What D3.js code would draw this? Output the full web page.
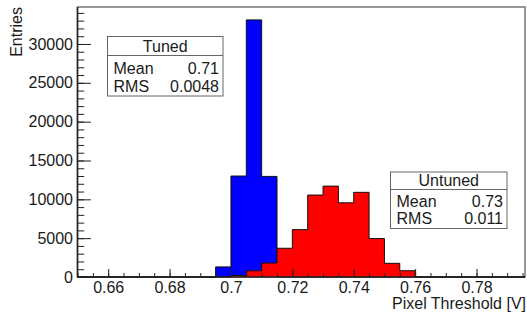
<!DOCTYPE html>
<html>
<head>
<meta charset="utf-8">
<script src="https://cdn.jsdelivr.net/npm/d3@7"></script>
<style>
  body { margin: 0; background: #fff; }
  text { font-family: "Liberation Sans", Arial, sans-serif; fill: #1a1a1a; }
</style>
</head>
<body>
<svg id="chart"></svg>
<script>
// bin lower edges, bin width 0.005 V
const binLows = [0.690, 0.695, 0.700, 0.705, 0.710, 0.715, 0.720, 0.725,
                 0.730, 0.735, 0.740, 0.745, 0.750, 0.755, 0.760, 0.765];
const tuned   = [0, 1300, 13000, 33100, 12950, 0, 0, 0, 0, 0, 0, 0, 0, 0, 0, 0];
const untuned = [0, 0, 200, 800, 1800, 3700, 6100, 10550,
                 11700, 9550, 10900, 4950, 1760, 810, 0, 0];
const binWidth = 0.005;

const xMajor = [0.66, 0.68, 0.70, 0.72, 0.74, 0.76, 0.78];
const xMinor = d3.range(0.65, 0.796, 0.005);
const yMajor = [0, 5000, 10000, 15000, 20000, 25000, 30000];
const yMinor = d3.range(0, 34001, 1000);

const tunedStats = [["Mean", "0.71"], ["RMS", "0.0048"]];
const untunedStats = [["Mean", "0.73"], ["RMS", "0.011"]];

const width = 527;
const height = 313;
const svg = d3.select("#chart").attr("width", width).attr("height", height);

const frame = { left: 77.5, right: 525, top: 7, bottom: 277 };

const x = d3.scaleLinear().domain([0.65, 0.7958]).range([frame.left, frame.right]);
const y = d3.scaleLinear().domain([0, 34760]).range([frame.bottom, frame.top]);

// step outline points for a histogram, zero outside the filled bins
function stepPoints(counts) {
  const pts = [[x.domain()[0], 0]];
  binLows.forEach((lo, i) => {
    pts.push([lo, pts[pts.length - 1][1]]);
    pts.push([lo, counts[i]]);
    pts.push([lo + binWidth, counts[i]]);
  });
  const last = binLows[binLows.length - 1] + binWidth;
  pts.push([last, 0]);
  pts.push([x.domain()[1], 0]);
  return pts;
}

const area = d3.area().x(d => x(d[0])).y0(y(0)).y1(d => y(d[1]));
const line = d3.line().x(d => x(d[0])).y(d => y(d[1]));

// frame
svg.append("rect")
  .attr("x", frame.left).attr("y", frame.top)
  .attr("width", frame.right - frame.left).attr("height", frame.bottom - frame.top)
  .attr("fill", "none").attr("stroke", "#777").attr("stroke-width", 1.5);

// blue first, red drawn on top
[[tuned, "#0000ff"], [untuned, "#ff0000"]].forEach(([counts, color]) => {
  const pts = stepPoints(counts);
  svg.append("path").datum(pts).attr("d", area).attr("fill", color);
  svg.append("path").datum(pts).attr("d", line)
    .attr("fill", "none").attr("stroke", "#111").attr("stroke-width", 1);
});

// x axis
const xAxisG = svg.append("g").attr("transform", `translate(0,${frame.bottom})`);
xAxisG.append("g")
  .call(d3.axisBottom(x).tickValues(xMinor).tickSize(-4).tickFormat(""))
  .call(g => g.select(".domain").remove());
xAxisG.append("g")
  .call(d3.axisBottom(x).tickValues(xMajor).tickSize(-8).tickPadding(5).tickFormat(d3.format("~g")))
  .call(g => g.select(".domain").remove())
  .call(g => g.selectAll("text").attr("font-size", 16).attr("fill", "#1a1a1a"));
xAxisG.selectAll("line").attr("stroke", "#222");

// y axis
const yAxisG = svg.append("g").attr("transform", `translate(${frame.left},0)`);
yAxisG.append("g")
  .call(d3.axisLeft(y).tickValues(yMinor).tickSize(-6.7).tickFormat(""))
  .call(g => g.select(".domain").remove());
yAxisG.append("g")
  .call(d3.axisLeft(y).tickValues(yMajor).tickSize(-13.4).tickPadding(4.5).tickFormat(d3.format("d")))
  .call(g => g.select(".domain").remove())
  .call(g => g.selectAll("text").attr("font-size", 16).attr("fill", "#1a1a1a"));
yAxisG.selectAll("line").attr("stroke", "#222");

// axis lines
svg.append("line").attr("x1", frame.left).attr("x2", frame.right)
  .attr("y1", frame.bottom).attr("y2", frame.bottom).attr("stroke", "#222").attr("stroke-width", 1.5);
svg.append("line").attr("x1", frame.left).attr("x2", frame.left)
  .attr("y1", frame.top).attr("y2", frame.bottom).attr("stroke", "#222").attr("stroke-width", 1.5);

// axis titles
svg.append("text").attr("x", 526).attr("y", 309)
  .attr("text-anchor", "end").attr("font-size", 16).text("Pixel Threshold [V]");
svg.append("text").attr("transform", "translate(22,7) rotate(-90)")
  .attr("text-anchor", "end").attr("font-size", 16).text("Entries");

// stat boxes
function statBox(title, rows, b) {
  const g = svg.append("g");
  g.append("rect").attr("x", b.x0).attr("y", b.y0)
    .attr("width", b.x1 - b.x0).attr("height", b.y1 - b.y0)
    .attr("fill", "#fff").attr("stroke", "#666").attr("stroke-width", 1);
  g.append("line").attr("x1", b.x0).attr("x2", b.x1)
    .attr("y1", b.div).attr("y2", b.div).attr("stroke", "#666");
  g.append("text").attr("x", (b.x0 + b.x1) / 2).attr("y", b.div - 3.5)
    .attr("text-anchor", "middle").attr("font-size", 16).text(title);
  const h = b.y1 - b.div;
  rows.forEach((r, i) => {
    const by = b.div + h * (0.46 + 0.43 * i);
    g.append("text").attr("x", b.x0 + 6).attr("y", by).attr("font-size", 16).text(r[0]);
    g.append("text").attr("x", b.x1 - 4).attr("y", by)
      .attr("text-anchor", "end").attr("font-size", 16).text(r[1]);
  });
}
statBox("Tuned", tunedStats, { x0: 107.5, x1: 223, y0: 36.5, y1: 96, div: 55.5 });
statBox("Untuned", untunedStats, { x0: 390.5, x1: 507, y0: 172, y1: 228.5, div: 189.5 });
</script>
</body>
</html>
